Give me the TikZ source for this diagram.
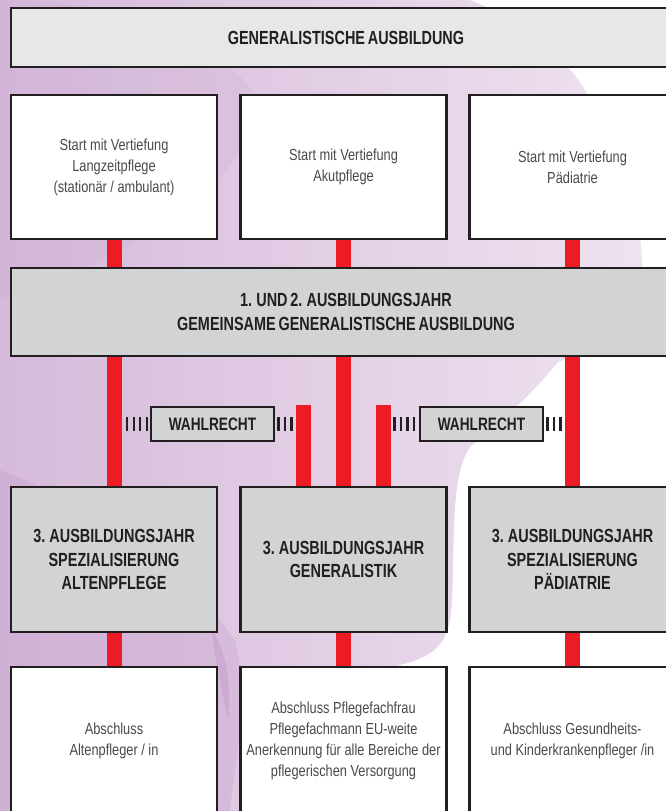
\documentclass[tikz,border=0pt]{standalone}
\usepackage{fontspec}
\setmainfont{Liberation Sans}[FakeStretch=0.8]
\newfontfamily\headfont{Liberation Sans}[FakeStretch=0.76, WordSpace=0.7]
\definecolor{barred}{HTML}{ED1C24}
\definecolor{ink}{HTML}{231F20}
\definecolor{graylight}{HTML}{E6E7E8}
\definecolor{graymid}{HTML}{D1D3D4}
\definecolor{textgray}{HTML}{4A4A4A}
\definecolor{lilacL}{HTML}{D5BADA}
\definecolor{lilacM}{HTML}{E3D0E6}
\definecolor{lilacR}{HTML}{EFE3F0}
\definecolor{lilacD}{HTML}{C49CCB}
\pgfdeclarelayer{blob}
\pgfdeclarelayer{bars}
\pgfsetlayers{blob,bars,main}
\begin{document}
\begin{tikzpicture}[x=1pt,y=-1pt,
  boxbase/.style={draw=ink, line width=2.4pt, inner sep=0pt, align=center},
  whitebox/.style={boxbase, fill=white, minimum width=206pt,
    font=\fontsize{16}{21}\selectfont, text=textgray},
  graybox/.style={boxbase, fill=graymid, minimum width=206pt, minimum height=145pt,
    font=\headfont\fontsize{19}{23.5}\selectfont\bfseries, text=ink},
  widebox/.style={boxbase, minimum width=670pt,
    font=\headfont\fontsize{19}{23.5}\selectfont\bfseries, text=ink},
  choicebox/.style={boxbase, fill=graymid, minimum width=123pt, minimum height=34pt,
    font=\headfont\fontsize{18}{20}\selectfont\bfseries, text=ink},
  redline/.style={draw=barred, line width=15pt},
  ticks/.style={draw=ink, line width=14pt, dash pattern=on 2.4pt off 4.1pt}]
\useasboundingbox (0,0) rectangle (666,811);
\clip (0,0) rectangle (666,811);

% background watercolour
\begin{pgfonlayer}{blob}
\fill[white] (0,0) rectangle (666,811);
\shade[left color=lilacL, middle color=lilacM, right color=lilacR]
  (0,0) -- (470,0) .. controls (520,20) and (560,50) .. (585,90)
  .. controls (620,150) and (650,230) .. (640,290)
  .. controls (630,330) and (590,350) .. (558,362)
  .. controls (535,390) and (505,420) .. (472,445)
  .. controls (450,470) and (455,540) .. (452,600)
  .. controls (450,640) and (440,655) .. (400,665)
  .. controls (330,690) and (280,740) .. (262,811)
  -- (0,811) -- cycle;
\fill[lilacD, opacity=0.3]
  (0,470) .. controls (80,500) and (180,560) .. (235,640)
  .. controls (250,700) and (235,760) .. (230,811)
  -- (0,811) -- cycle;
\fill[lilacD, opacity=0.5]
  (212,630) .. controls (225,650) and (232,680) .. (228,720)
  .. controls (222,690) and (215,660) .. (212,630) -- cycle;
\fill[lilacD, opacity=0.15]
  (0,0) .. controls (120,0) and (220,40) .. (260,100)
  .. controls (240,200) and (120,260) .. (0,300) -- cycle;
\end{pgfonlayer}

% boxes
\node[widebox, fill=graylight, minimum height=59pt] (top) at (346,37.5)
  {GENERALISTISCHE AUSBILDUNG};

\node[whitebox, minimum height=144pt] (s1) at (114,167)
  {Start mit Vertiefung\\Langzeitpflege\\(stationär / ambulant)};
\node[whitebox, minimum height=144pt] (s2) at (343.5,167)
  {Start mit Vertiefung\\Akutpflege};
\node[whitebox, minimum height=144pt] (s3) at (572.5,167)
  {Start mit Vertiefung\\Pädiatrie};

\node[widebox, fill=graymid, minimum height=88pt] (mid) at (346,312)
  {1. UND 2. AUSBILDUNGSJAHR\\GEMEINSAME GENERALISTISCHE AUSBILDUNG};

\node[choicebox] (w1) at (212.5,424) {WAHLRECHT};
\node[choicebox] (w2) at (481.5,424) {WAHLRECHT};

\node[graybox] (y1) at (114,559.5)
  {3. AUSBILDUNGSJAHR\\SPEZIALISIERUNG\\ALTENPFLEGE};
\node[graybox] (y2) at (343.5,559.5)
  {3. AUSBILDUNGSJAHR\\GENERALISTIK};
\node[graybox] (y3) at (572.5,559.5)
  {3. AUSBILDUNGSJAHR\\SPEZIALISIERUNG\\PÄDIATRIE};

\node[whitebox, minimum height=148pt] (e1) at (114,741)
  {Abschluss\\Altenpfleger / in};
\node[whitebox, minimum height=148pt] (e2) at (343.5,741)
  {Abschluss Pflegefachfrau\\Pflegefachmann EU-weite\\Anerkennung für alle Bereiche der\\pflegerischen Versorgung};
\node[whitebox, minimum height=148pt] (e3) at (572.5,741)
  {Abschluss Gesundheits-\\und Kinderkrankenpfleger /in};

% red connectors
\coordinate (c1) at (303.5,405);
\coordinate (c2) at (383.5,405);
\begin{pgfonlayer}{bars}
\foreach \i in {1,2,3}{
  \draw[redline] (s\i.center) -- (s\i.center |- mid.center);
  \draw[redline] (s\i.center |- mid.center) -- (y\i.center);
  \draw[redline] (y\i.center) -- (e\i.center);
}
\draw[redline] (c1) -- (c1 |- y2.center);
\draw[redline] (c2) -- (c2 |- y2.center);
\end{pgfonlayer}

% tick lines
\coordinate (t1a) at (126,424);
\coordinate (t1b) at (148.4,424);
\coordinate (t2a) at (277.3,424);
\coordinate (t2b) at (292.8,424);
\coordinate (t3a) at (393.3,424);
\coordinate (t3b) at (417.7,424);
\coordinate (t4a) at (546.3,424);
\coordinate (t4b) at (561.8,424);
\draw[ticks] (t1a) -- (t1b);
\draw[ticks] (t2a) -- (t2b);
\draw[ticks] (t3a) -- (t3b);
\draw[ticks] (t4a) -- (t4b);
\end{tikzpicture}
\end{document}
